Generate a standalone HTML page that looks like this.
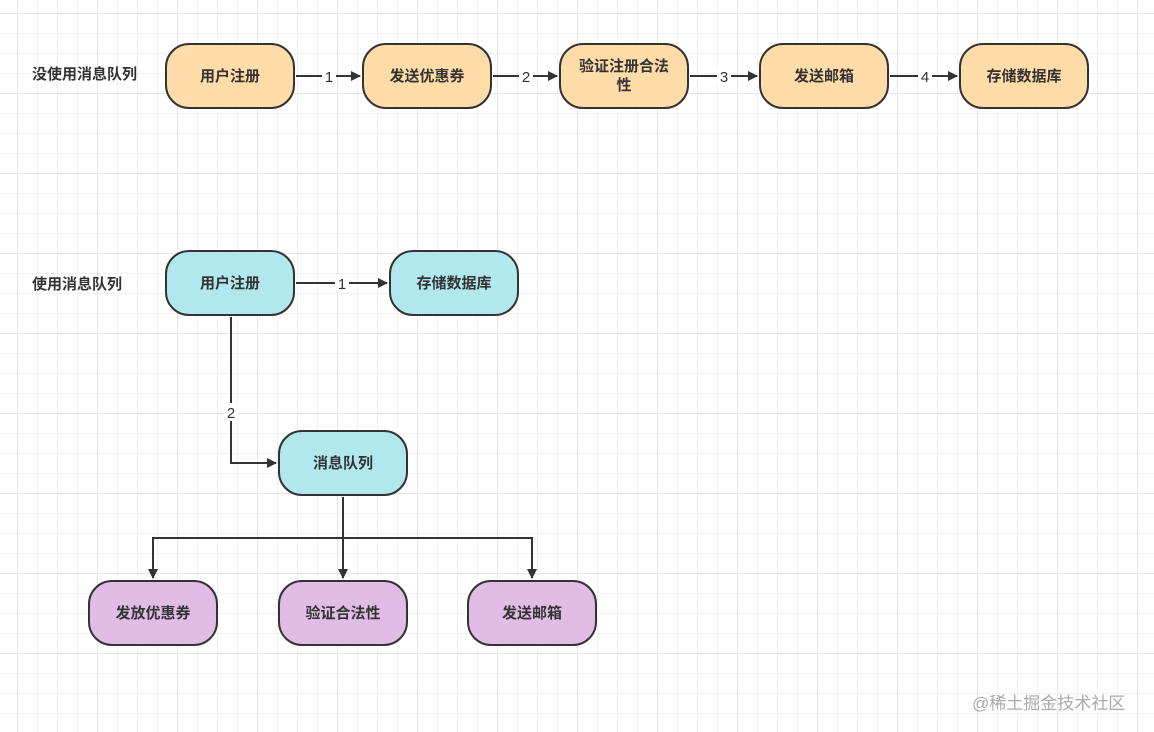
<!DOCTYPE html>
<html><head><meta charset="utf-8"><style>
body{margin:0;width:1154px;height:732px;overflow:hidden;background:#fff;
background-image:linear-gradient(#e6e6e6 1px,transparent 1px),linear-gradient(90deg,#e6e6e6 1px,transparent 1px),linear-gradient(#f2f2f2 1px,transparent 1px),linear-gradient(90deg,#f2f2f2 1px,transparent 1px);
background-size:80px 80px,80px 80px,20px 20px,20px 20px;background-position:17px 13px,17px 13px,17px 13px,17px 13px;
font-family:"Liberation Sans","Noto Sans CJK SC",sans-serif;position:relative}
.n{position:absolute;width:126px;height:62px;border:2px solid #333;border-radius:24px;display:flex;align-items:center;justify-content:center;text-align:center;font-size:15px;font-weight:bold;color:#333;line-height:19px;box-sizing:content-box}
.o{background:#ffdca8}.c{background:#b0e8ee}.p{background:#e1bde6}
.t{position:absolute;font-size:15px;font-weight:bold;color:#333}
svg{position:absolute;left:0;top:0}
.wm{position:absolute;left:972px;top:689px;font-size:17px;color:#aaa}
</style></head><body>
<svg width="1154" height="732">
<defs><marker id="a" markerWidth="10" markerHeight="10" refX="9" refY="5" orient="auto" markerUnits="userSpaceOnUse"><path d="M0,0 L10,5 L0,10 z" fill="#333"/></marker></defs>
<g stroke="#333" stroke-width="2" fill="none">
<path d="M296,76 H360" marker-end="url(#a)"/>
<path d="M493,76 H557" marker-end="url(#a)"/>
<path d="M690,76 H757" marker-end="url(#a)"/>
<path d="M890,76 H957" marker-end="url(#a)"/>
<path d="M296,283 H387" marker-end="url(#a)"/>
<path d="M231,317 V463 H276" marker-end="url(#a)"/>
<path d="M343,497 V578" marker-end="url(#a)"/>
<path d="M153,578 V538 H532 V578" marker-end="url(#a)"/>
<path d="M153,560 V578" marker-end="url(#a)"/>
</g>
<g font-size="15" fill="#333" text-anchor="middle" font-family="Liberation Sans,sans-serif">
<rect x="322" y="67" width="14" height="18" fill="#fff"/><text x="329" y="82">1</text>
<rect x="519" y="67" width="14" height="18" fill="#fff"/><text x="526" y="82">2</text>
<rect x="717" y="67" width="14" height="18" fill="#fff"/><text x="724" y="82">3</text>
<rect x="918" y="67" width="14" height="18" fill="#fff"/><text x="925" y="82">4</text>
<rect x="335" y="274" width="14" height="18" fill="#fff"/><text x="342" y="289">1</text>
<rect x="224" y="403" width="14" height="18" fill="#fff"/><text x="231" y="418">2</text>
</g>
</svg>
<div class="t" style="left:32px;top:63px">没使用消息队列</div>
<div class="t" style="left:32px;top:273px">使用消息队列</div>
<div class="n o" style="left:165px;top:43px">用户注册</div>
<div class="n o" style="left:362px;top:43px">发送优惠券</div>
<div class="n o" style="left:559px;top:43px">验证注册合法<br>性</div>
<div class="n o" style="left:759px;top:43px">发送邮箱</div>
<div class="n o" style="left:959px;top:43px">存储数据库</div>
<div class="n c" style="left:165px;top:250px">用户注册</div>
<div class="n c" style="left:389px;top:250px">存储数据库</div>
<div class="n c" style="left:278px;top:430px">消息队列</div>
<div class="n p" style="left:88px;top:580px">发放优惠券</div>
<div class="n p" style="left:278px;top:580px">验证合法性</div>
<div class="n p" style="left:467px;top:580px">发送邮箱</div>
<div class="wm">@稀土掘金技术社区</div>
</body></html>
